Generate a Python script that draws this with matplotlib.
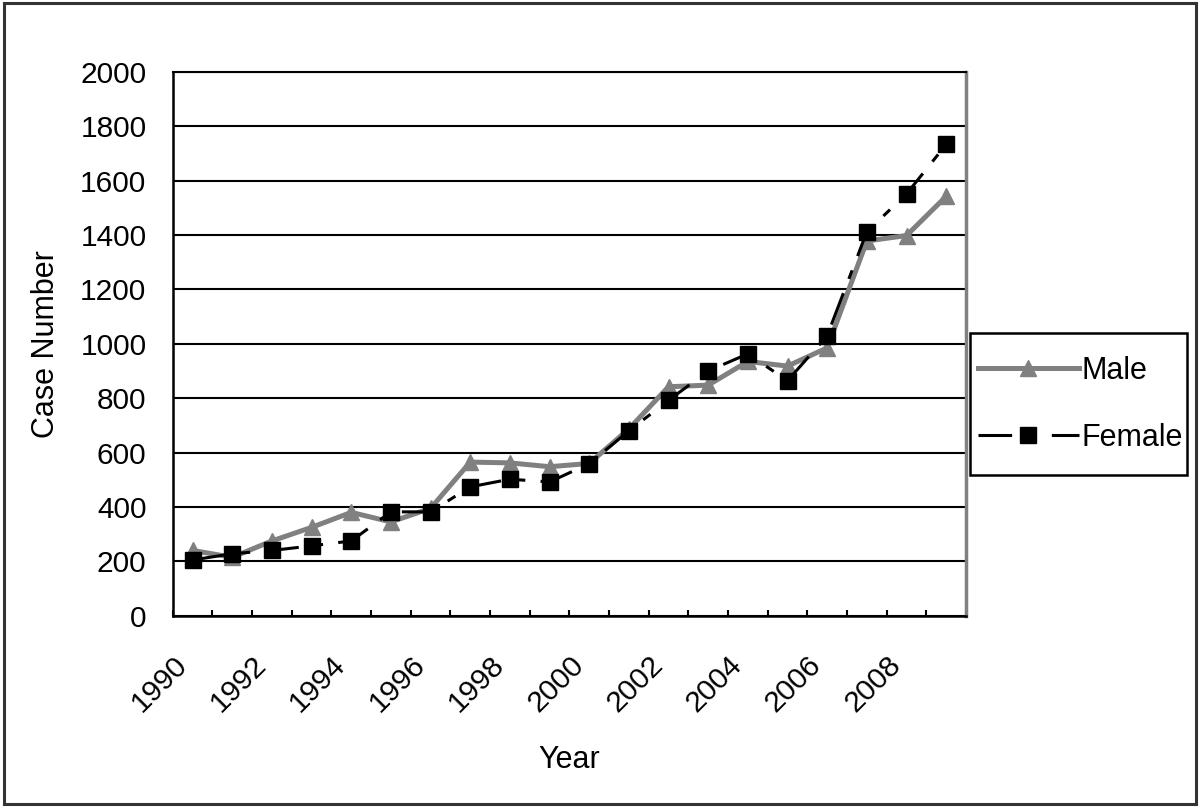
import numpy as np
import matplotlib.pyplot as plt
from matplotlib.patches import Rectangle
from matplotlib.transforms import ScaledTranslation

years = list(range(1990, 2010))
male = [240, 215, 275, 325, 380, 345, 395, 565, 562, 548, 560, 687, 842, 848, 935, 918, 985, 1378, 1398, 1542]
female = [205, 228, 240, 257, 275, 382, 382, 474, 502, 492, 559, 680, 792, 900, 963, 864, 1030, 1412, 1551, 1733]
y_ticks = list(range(0, 2001, 200))

plt.rcParams['font.family'] = ['Liberation Sans', 'DejaVu Sans']

fig = plt.figure(figsize=(12, 8.07), dpi=100)
ax = fig.add_axes([0.144, 0.237, 0.661, 0.674])

x = np.arange(len(years))
ax.plot(x, male, color='#808080', lw=3.6, marker='^', markersize=12,
        markerfacecolor='#808080', markeredgecolor='#808080', label='Male', zorder=3)
ax.plot(x, female, color='black', lw=2.2, linestyle=(0, (11, 5, 3, 5)), marker='s',
        markersize=12, markerfacecolor='black', markeredgecolor='black',
        label='Female', zorder=4)

ax.set_xlim(-0.5, len(years) - 0.5)
ax.set_ylim(0, 2000)
ax.set_yticks(y_ticks)
ax.yaxis.grid(True, color='black', lw=1.5)
ax.set_axisbelow(True)
ax.tick_params(axis='y', length=0, pad=19, labelsize=21.5)

ax.set_xticks(x[::2])
ax.set_xticklabels([str(y) for y in years[::2]])
ax.set_xticks(np.arange(-0.5, len(years), 1), minor=True)
ax.tick_params(axis='x', which='major', length=0, pad=25, labelsize=21.5)
ax.tick_params(axis='x', which='minor', direction='in', length=4.5, width=1.5)
for lab in ax.get_xticklabels():
    lab.set_rotation(45)
    lab.set_ha('right')
    lab.set_rotation_mode('anchor')
    lab.set_transform(lab.get_transform() + ScaledTranslation(-0.2, 0, fig.dpi_scale_trans))

ax.spines['left'].set_linewidth(1.8)
ax.spines['bottom'].set_linewidth(1.8)
ax.spines['top'].set_linewidth(1.5)
ax.spines['right'].set_color('#808080')
ax.spines['right'].set_linewidth(2.5)

ax.set_ylabel('Case Number', fontsize=22, labelpad=14)
ax.set_xlabel('Year', fontsize=22, labelpad=20)

leg = fig.legend(loc='center left', bbox_to_anchor=(0.815, 0.499), fontsize=22,
                 handlelength=3.3, handletextpad=0.1, borderpad=0.0, labelspacing=1.2,
                 frameon=False, borderaxespad=0.0)
fig.patches.append(Rectangle((0.8083, 0.4114), 0.1808, 0.176, transform=fig.transFigure,
                             fill=False, edgecolor='black', lw=1.8))

fig.patches.append(Rectangle((0.003, 0.004), 0.994, 0.992, transform=fig.transFigure,
                             fill=False, edgecolor='#333333', lw=2.2))

plt.savefig('out.png', dpi=100)
